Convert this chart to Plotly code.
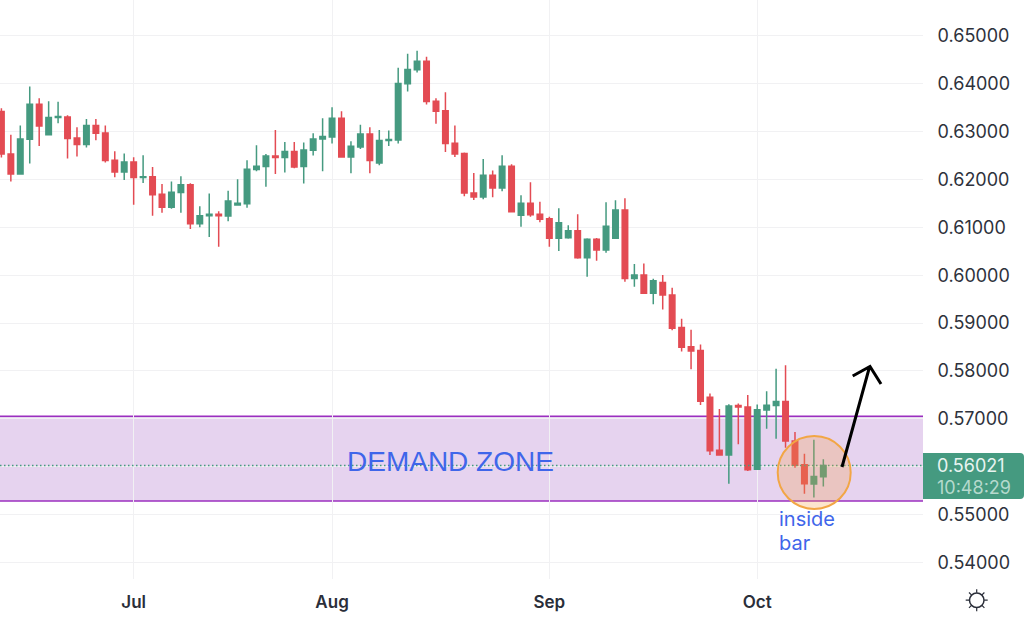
import pandas as pd
import plotly.graph_objects as go

dates = [d.strftime("%Y-%m-%d") for d in pd.bdate_range("2022-06-13", periods=88)]

opens = [.63421,.62535,.62116,.62842,.63574,.62933,.63295,.63309,.62870,.62730,
         .63128,.62974,.62402,.62158,.62367,.62040,.62060,.61691,.61419,.61726,
         .61893,.61077,.61244,.61272,.61237,.61467,.61495,.62207,.62270,.62493,
         .62458,.62584,.62270,.62612,.62849,.62891,.63281,.62472,.62681,.62953,
         .62347,.62814,.62828,.64000,.64293,.64474,.63637,.63435,.62758,.62542,
         .61719,.61635,.62088,.61823,.62277,.61251,.61502,.61272,.61181,.60770,
         .60784,.60930,.60365,.60749,.60525,.60770,.61363,.59932,.60002,.59625,
         .59849,.59584,.58907,.58502,.58425,.57449,.56339,.56242,.57274,.57246,
         .55942,.57183,.57274,.57358,.56535,.56039,.55635,.55788]
highs = [.63491,.62933,.63128,.63944,.63700,.63637,.63623,.63344,.63093,.63267,
         .63267,.63128,.62591,.62542,.62465,.62507,.62263,.61907,.61956,.62067,
         .61921,.61440,.61705,.61335,.61767,.62005,.62402,.62716,.62535,.63037,
         .62786,.62786,.62772,.62967,.63281,.63512,.63428,.62800,.63142,.63093,
         .63037,.63023,.64335,.64628,.64691,.64565,.63700,.63826,.63128,.62563,
         .62137,.62430,.62186,.62507,.62319,.61670,.61942,.61537,.61223,.61398,
         .61042,.61272,.60770,.60777,.61523,.61565,.61607,.60232,.60246,.59925,
         .60002,.59737,.59088,.58858,.58551,.57525,.57204,.57302,.57316,.57498,
         .57295,.57574,.58042,.58118,.56723,.56269,.56563,.56151]
lows = [.62458,.61956,.62116,.62333,.62702,.62920,.63177,.62437,.62479,.62667,
        .62821,.62353,.62046,.61991,.61474,.61928,.61244,.61307,.61391,.61307,
        .60965,.61000,.60798,.60595,.61126,.61460,.61412,.62172,.61851,.62116,
        .62144,.62235,.61914,.62500,.62172,.62751,.62460,.62130,.62640,.62130,
        .62298,.62702,.62751,.63840,.64237,.63567,.63163,.62577,.62472,.61649,
        .61572,.61586,.61628,.61753,.61320,.61014,.61223,.61105,.60595,.60505,
        .60763,.60344,.59967,.60302,.60470,.60760,.59863,.59758,.59620,.59395,
        .59284,.58851,.58405,.58035,.57288,.56242,.56230,.55642,.56465,.55907,
        .55930,.56793,.56583,.56395,.55977,.55432,.55356,.55586]
closes = [.62535,.62116,.62849,.63574,.63121,.63295,.63316,.62856,.62730,.63128,
          .62967,.62395,.62158,.62367,.62040,.62060,.61684,.61419,.61733,.61893,
          .61077,.61244,.61272,.61244,.61551,.61502,.62214,.62277,.62493,.62458,
          .62584,.62263,.62619,.62849,.62898,.63281,.62472,.62695,.62953,.62395,
          .62814,.62835,.64007,.64300,.64474,.63630,.63428,.62751,.62535,.61719,
          .61635,.62088,.61823,.62277,.61328,.61502,.61265,.61167,.60770,.61098,
          .60930,.60365,.60749,.60525,.61021,.61363,.59932,.60002,.59625,.59884,
          .59584,.58893,.58495,.58418,.57365,.56332,.56242,.57267,.57246,.55935,
          .57190,.57281,.57358,.56535,.56025,.55642,.55795,.56021]

month_ticks = ["2022-07-01", "2022-08-01", "2022-09-01", "2022-10-03"]
month_labels = ["Jul", "Aug", "Sep", "Oct"]
price_ticks = [.54, .55, .56, .57, .58, .59, .60, .61, .62, .63, .64, .65]
# the 0.56 label sits behind the live price tag in the reference, so it is left blank
price_labels = ["0.54000", "0.55000", "", "0.57000", "0.58000", "0.59000",
                "0.60000", "0.61000", "0.62000", "0.63000", "0.64000", "0.65000"]
zone_low, zone_high = 0.5528, 0.5705
last_price = 0.56021
countdown = "10:48:29"

GREEN = "#459a80"
RED = "#e34b53"
BLUE = "#3f66ea"
PURPLE = "#9b2fbf"
W, H = 923.0, 579.0
px = lambda x: x / W
py = lambda y: 1 - y / H

fig = go.Figure(go.Candlestick(
    x=dates, open=opens, high=highs, low=lows, close=closes,
    increasing=dict(line=dict(color=GREEN, width=1.5), fillcolor=GREEN),
    decreasing=dict(line=dict(color=RED, width=1.5), fillcolor=RED),
    hoverinfo="skip", showlegend=False,
))

shapes = [
    dict(type="rect", layer="between", xref="paper", yref="y", x0=0, x1=1, y0=zone_low, y1=zone_high,
         fillcolor="rgba(155,80,191,0.25)", line=dict(width=0)),
    dict(type="line", layer="between", xref="paper", yref="y", x0=0, x1=1, y0=zone_low, y1=zone_low,
         line=dict(color=PURPLE, width=1.5)),
    dict(type="line", layer="between", xref="paper", yref="y", x0=0, x1=1, y0=zone_high, y1=zone_high,
         line=dict(color=PURPLE, width=1.5)),
    dict(type="line", layer="above", xref="paper", yref="y", x0=0, x1=1, y0=last_price, y1=last_price,
         line=dict(color=GREEN, width=1.5, dash="1.5px,2.5px")),
    dict(type="circle", layer="above", xref="paper", yref="paper",
         x0=px(777.7), x1=px(850.7), y0=py(509), y1=py(436),
         fillcolor="rgba(244,160,70,0.27)", line=dict(color="#f2a645", width=2)),
    dict(type="path", layer="above", xref="paper", yref="paper",
         path=f"M {px(842)} {py(467)} L {px(869.5)} {py(367)} M {px(852.7)} {py(376)} L {px(870)} {py(366.5)} L {px(881)} {py(384)}",
         line=dict(color="#000000", width=3)),
    dict(type="path", layer="above", xref="paper", yref="paper", fillcolor=GREEN, line=dict(width=0),
         path=(f"M {px(923)} {py(453)} L {px(1020)} {py(453)} Q {px(1024)} {py(453)} {px(1024)} {py(457)} "
               f"L {px(1024)} {py(495)} Q {px(1024)} {py(499)} {px(1020)} {py(499)} L {px(923)} {py(499)} Z")),
    dict(type="circle", layer="above", xref="paper", yref="paper",
         x0=px(969.5), x1=px(984), y0=py(607.5), y1=py(593), line=dict(color="#2a2e39", width=1.5)),
]
cx, cy = 976.7, 600.2
rays = [(0, -1), (0, 1), (1, 0), (-1, 0), (.7, .7), (-.7, .7), (.7, -.7), (-.7, -.7)]
ray_path = " ".join(
    f"M {px(cx + a * 7.5)} {py(cy + b * 7.5)} L {px(cx + a * 11)} {py(cy + b * 11)}" for a, b in rays
)
shapes.append(dict(type="path", layer="above", xref="paper", yref="paper", path=ray_path,
                   line=dict(color="#2a2e39", width=1.2)))

def note(x, y, text, size, color, anchor="left", **kw):
    return dict(xref="paper", yref="paper", x=px(x), y=py(y), text=text, showarrow=False,
                xanchor=anchor, yanchor="middle", borderpad=0,
                font=dict(family="Inter", size=size, color=color), **kw)

annotations = [
    dict(xref="paper", yref="paper", x=px(450), y=py(461), text="DEMAND ZONE", showarrow=False,
         xanchor="center", yanchor="middle", font=dict(family="Liberation Sans", size=28, color=BLUE)),
    note(778, 519, "inside", 20, BLUE),
    note(778, 542.5, "bar", 20, BLUE),
    note(936, 465, "%.5f" % last_price, 18, "#e8f4f0"),
    note(936, 487, countdown, 18, "#b5d9cd"),
]

fig.update_layout(
    width=1024, height=619,
    margin=dict(l=0, r=101, t=0, b=40, pad=0),
    paper_bgcolor="white", plot_bgcolor="white",
    boxgap=0.3, boxgroupgap=0.17,
    shapes=shapes, annotations=annotations,
    xaxis=dict(
        type="category", range=[-0.148, 97.55], rangeslider=dict(visible=False),
        tickmode="array", tickvals=month_ticks, ticktext=month_labels,
        showgrid=True, gridcolor="#f1f1f3", gridwidth=1, zeroline=False, showline=False,
        ticks="outside", ticklen=8, tickcolor="rgba(0,0,0,0)",
        tickangle=0, tickfont=dict(family="Inter", size=17, color="#2a2e39", weight=600),
    ),
    yaxis=dict(
        side="right", range=[0.5365, 0.65752],
        tickmode="array", tickvals=price_ticks, ticktext=price_labels,
        showgrid=True, gridcolor="#f1f1f3", gridwidth=1, zeroline=False, showline=False,
        ticks="outside", ticklen=10, tickcolor="rgba(0,0,0,0)",
        tickfont=dict(family="Inter", size=18, color="#2e323c"),
    ),
)

fig.write_html("out.html", config=dict(displayModeBar=False),
               post_script="document.body.style.margin='0';document.documentElement.style.overflow='hidden';")
